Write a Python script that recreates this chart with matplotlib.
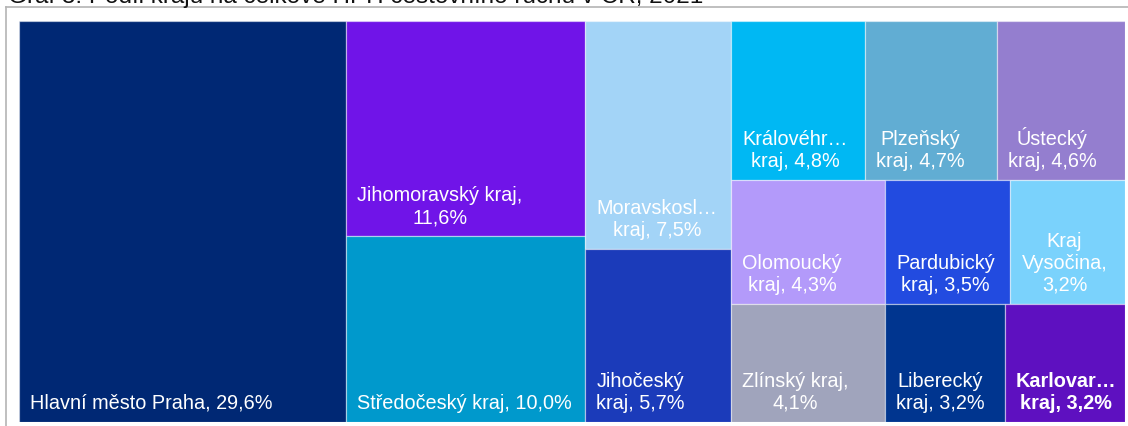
import matplotlib
matplotlib.use("Agg")
import matplotlib.pyplot as plt
from matplotlib.patches import Rectangle
from matplotlib.lines import Line2D

plt.rcParams['font.family'] = ['Liberation Sans', 'DejaVu Sans']

# ---- data ----
regions = ["Hlavní město Praha", "Jihomoravský kraj", "Středočeský kraj",
           "Moravskoslezský kraj", "Jihočeský kraj", "Královéhradecký kraj",
           "Plzeňský kraj", "Ústecký kraj", "Olomoucký kraj", "Pardubický kraj",
           "Kraj Vysočina", "Zlínský kraj", "Liberecký kraj", "Karlovarský kraj"]
shares = [29.6, 11.6, 10.0, 7.5, 5.7, 4.8, 4.7, 4.6, 4.3, 3.5, 3.2, 4.1, 3.2, 3.2]
# labels as displayed (wrapped / truncated like the original); {} = value
label_tpl = ["Hlavní město Praha, {}", "Jihomoravský kraj,\n{}", "Středočeský kraj, {}",
             "Moravskosl…\nkraj, {}", "Jihočeský\nkraj, {}", "Královéhr…\nkraj, {}",
             "Plzeňský\nkraj, {}", "Ústecký\nkraj, {}", "Olomoucký\nkraj, {}",
             "Pardubický\nkraj, {}", "Kraj\nVysočina,\n{}", "Zlínský kraj,\n{}",
             "Liberecký\nkraj, {}", "Karlovar…\nkraj, {}"]
colors = ["#002874", "#7014E8", "#0099CC", "#A3D4F7", "#1B3BBA", "#00B8F3",
          "#61ADD3", "#947ECF", "#B39AFA", "#224BE0", "#7AD2FC", "#A0A4BC",
          "#00358F", "#5E10C0"]
bold = [False] * 13 + [True]
title = "Graf 3: Podíl krajů na celkové HPH cestovního ruchu v ČR, 2021"

# layout structure: columns of item indices; a column may hold rows
layout = [[0], [1, 2], [3, 4], [[5, 6, 7], [8, 9, 10], [11, 12, 13]]]

# ---- compute rectangles (unit square, y from top) ----
total = sum(shares)
rects = {}
x = 0.0
for col in layout:
    if isinstance(col[0], list):
        col_sum = sum(shares[i] for row in col for i in row)
        w = col_sum / total
        y = 0.0
        for row in col:
            row_sum = sum(shares[i] for i in row)
            h = row_sum / col_sum
            xx = x
            for i in row:
                ww = w * shares[i] / row_sum
                rects[i] = (xx, y, ww, h)
                xx += ww
            y += h
    else:
        col_sum = sum(shares[i] for i in col)
        w = col_sum / total
        y = 0.0
        for i in col:
            h = shares[i] / col_sum
            rects[i] = (x, y, w, h)
            y += h
    x += w

W, H = 1128, 426
fig = plt.figure(figsize=(W / 100, H / 100), dpi=100)
ax = fig.add_axes([19 / W, 4 / H, (1125 - 19) / W, (422 - 21) / H])
ax.set_xlim(0, 1)
ax.set_ylim(1, 0)
ax.axis('off')

for i in range(len(shares)):
    rx, ry, rw, rh = rects[i]
    ax.add_patch(Rectangle((rx, ry), rw, rh, facecolor=colors[i],
                           edgecolor=(1, 1, 1, 0.45), linewidth=0.9))
    val = f"{shares[i]:.1f}".replace('.', ',') + "%"
    txt = label_tpl[i].format(val)
    ax.annotate(txt, xy=(rx, ry + rh), xytext=(8, 6.5), textcoords='offset points',
                ha='left', va='bottom', multialignment='center', color='white',
                fontsize=14.3, fontweight='bold' if bold[i] else 'normal',
                linespacing=1.2)

# outer frame (top and left lines) and title cut off at the top edge
fig.add_artist(Line2D([5.5 / W, 1.0], [1 - 6.5 / H, 1 - 6.5 / H], color='#B4B4B4', lw=1.2))
fig.add_artist(Line2D([5.5 / W, 5.5 / W], [0, 1 - 6.5 / H], color='#B4B4B4', lw=1.2))
fig.text(8 / W, 1 - 2.5 / H, title, ha='left', va='baseline', fontsize=17.5,
         color='#111111')

fig.savefig("out.png", dpi=100)
